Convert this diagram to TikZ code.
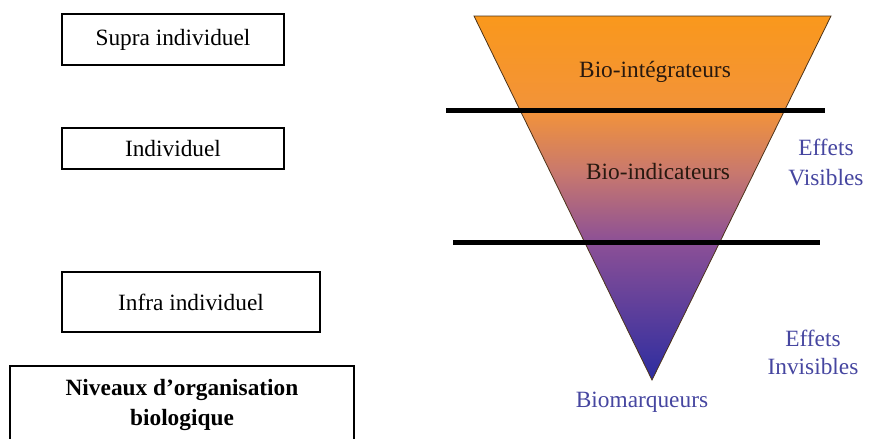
\documentclass[tikz,border=0pt]{standalone}
\usepackage{fontspec}
\setmainfont{Liberation Serif}
\definecolor{apexblue}{RGB}{45,45,160}
\definecolor{lowviolet}{RGB}{140,80,150}
\definecolor{midrose}{RGB}{200,120,110}
\definecolor{highorange}{RGB}{242,147,58}
\definecolor{toporange}{RGB}{250,152,28}
\definecolor{effecttext}{RGB}{70,70,160}
\definecolor{funneltext}{RGB}{40,25,15}
% les couleurs vont de 25bp (pointe) a 75bp (haut)
\pgfdeclareverticalshading{funnelfill}{100bp}{color(0bp)=(apexblue); color(25bp)=(apexblue); color(44bp)=(lowviolet); color(53.5bp)=(midrose); color(62bp)=(highorange); color(75bp)=(toporange); color(100bp)=(toporange)}

\begin{document}
\begin{tikzpicture}[x=0.75pt,y=-0.75pt,
  every node/.style={font=\fontsize{17.5}{22.5}\selectfont},
  levelbox/.style={draw=black,line width=1pt,inner sep=0pt,align=center},
  effect/.style={text=effecttext,align=center}]
\useasboundingbox (0,0) rectangle (869,439);
\clip (0,0) rectangle (869,439);
% niveaux d'organisation
\node[levelbox,minimum width=166.5pt,minimum height=38.25pt] (supra) at (173,39.5) {Supra individuel};
\node[levelbox,minimum width=166.5pt,minimum height=30.75pt] (indiv) at (173,148.5) {Individuel};
\node[levelbox,minimum width=193.5pt,minimum height=45pt] (infra) at (191,302) {Infra individuel};
\node[levelbox,minimum width=258pt,minimum height=58.5pt,font=\fontsize{17.5}{22.5}\selectfont\bfseries] (niveaux) at (182,405) {Niveaux d’organisation\\biologique};
% entonnoir
\coordinate (topw) at (474,16);
\coordinate (tope) at (831,16);
\coordinate (apex) at (652,380);
\shade[shading=funnelfill,draw=black!60!brown,line width=0.6pt] (topw) -- (tope) -- (apex) -- cycle;
\coordinate (bar1w) at (446,110);
\coordinate (bar1e) at (825,110);
\coordinate (bar2w) at (453,242);
\coordinate (bar2e) at (820,242);
\draw[line width=3.75pt] (bar1w) -- (bar1e);
\draw[line width=3.75pt] (bar2w) -- (bar2e);
\node[text=funneltext] (integr) at (655,72) {Bio-intégrateurs};
\node[text=funneltext] (indic) at (658,172) {Bio-indicateurs};
\node[effect] (biomarq) at (642,402) {Biomarqueurs};
\node[effect] (visib) at (826,162) {Effets\\Visibles};
\node[effect,font=\fontsize{17.5}{21}\selectfont] (invis) at (813,352) {Effets\\Invisibles};
\end{tikzpicture}
\end{document}
